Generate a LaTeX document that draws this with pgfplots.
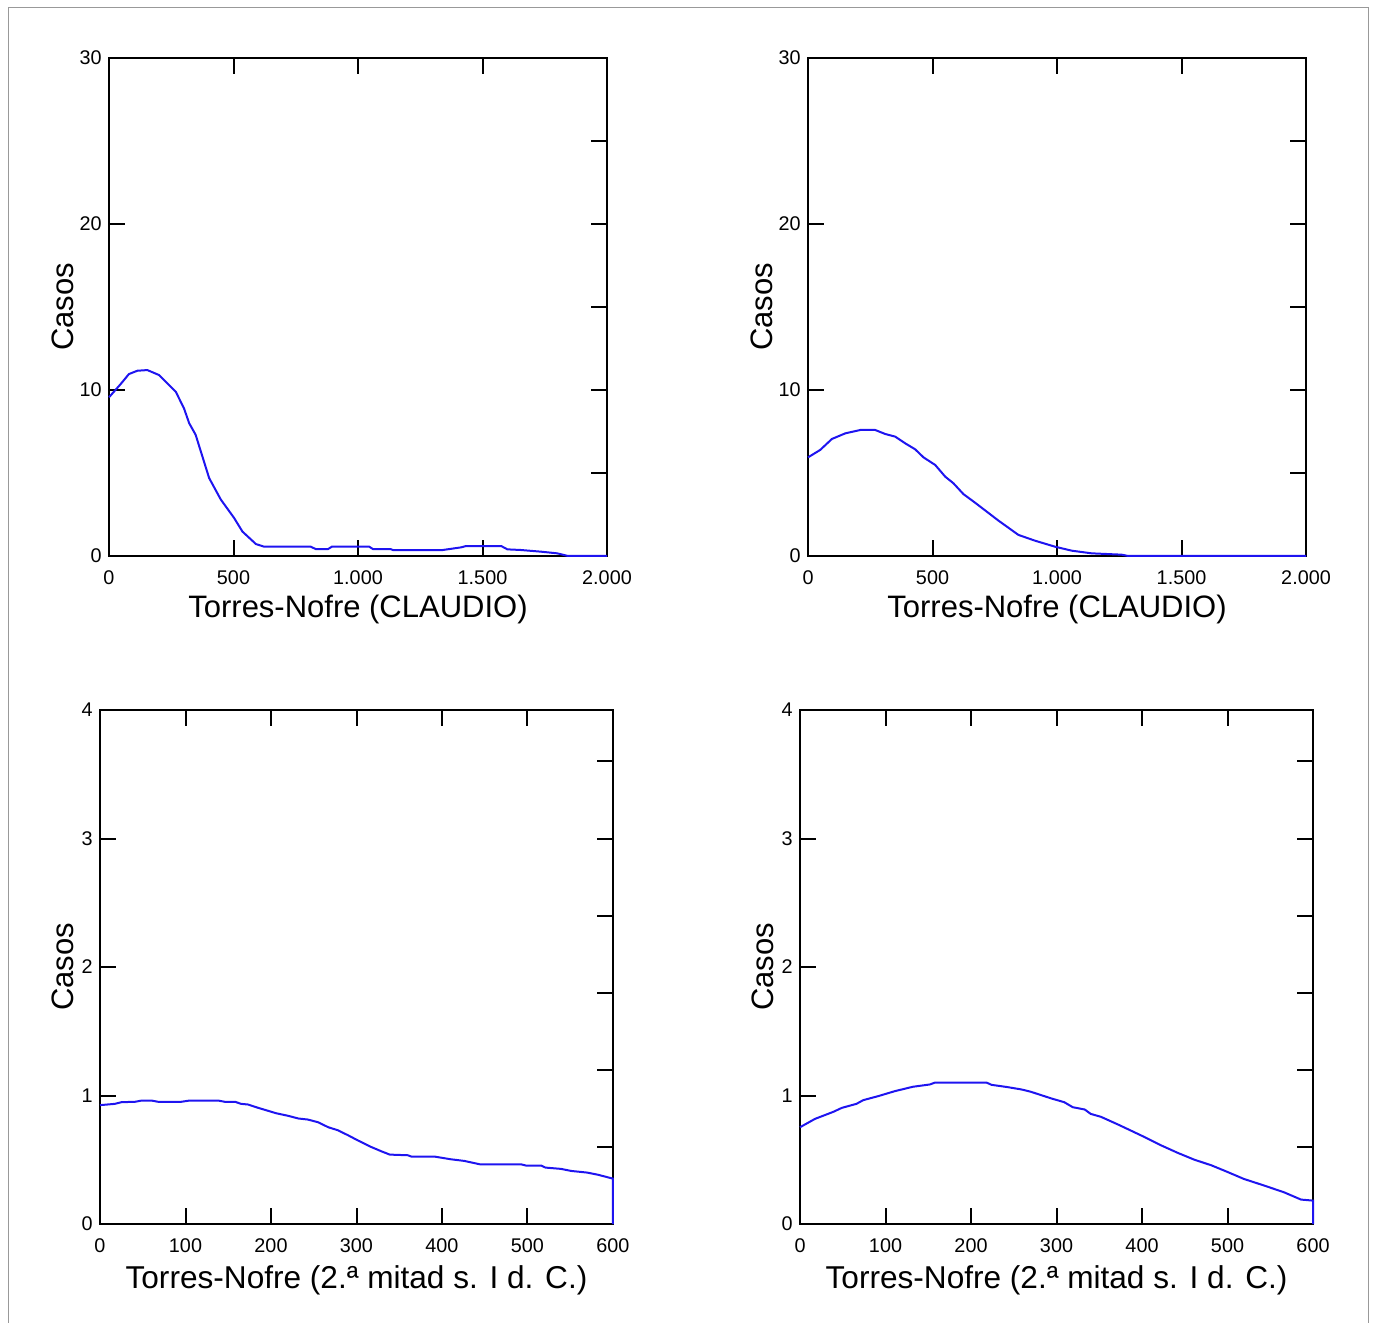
\documentclass[border=0pt]{standalone}
\usepackage{fontspec}
\setmainfont{Liberation Sans}
\usepackage{pgfplots}
\pgfplotsset{compat=1.18}
\definecolor{curve}{RGB}{30,20,240}
\pgfplotsset{
  panel/.style={
    scale only axis,
    axis line style={line width=1pt, black},
    every tick/.style={line width=1pt, black},
    major tick length=8pt,
    tick align=inside,
    clip=false,
  },
  mainpanel/.style={
    panel,
    xtick pos=both,
    ytick pos=left,
    xticklabel style={font=\fontsize{9.9}{10}\selectfont, inner sep=0pt, anchor=north, yshift=-7pt},
    yticklabel style={font=\fontsize{9.9}{10}\selectfont, inner sep=0pt, anchor=east, xshift=-3.5pt},
    ylabel style={font=\fontsize{15.5}{16}\selectfont, inner sep=0pt, at={([xshift=-17.5pt]axis description cs:0,0.5)}, anchor=south},
  },
  rightpanel/.style={
    panel,
    xtick=\empty,
    ytick pos=right,
    yticklabels={},
  },
}
\begin{document}
\begin{tikzpicture}
\useasboundingbox (0,0) rectangle (687pt,661pt);
\draw[gray!80, line width=0.5pt] (4pt,-1pt) -- (4pt,657pt) -- (684pt,657pt) -- (684pt,-1pt);

% ---------- Top left ----------
\begin{axis}[rightpanel, at={(54.5pt,383pt)}, anchor=south west, width=249pt, height=249pt,
  xmin=0, xmax=2000, ymin=0, ymax=30, ytick={0,5,10,15,20,25,30}]
\end{axis}
\begin{axis}[mainpanel, at={(54.5pt,383pt)}, anchor=south west, width=249pt, height=249pt,
  xmin=0, xmax=2000, ymin=0, ymax=30,
  xtick={0,500,1000,1500,2000}, xticklabels={0,500,1.000,1.500,2.000},
  ytick={0,10,20,30}, yticklabels={0,10,20,30},
  xlabel={Torres-Nofre (CLAUDIO)}, ylabel={Casos},
  xlabel style={font=\fontsize{15.5}{16}\selectfont, inner sep=0pt, at={(axis description cs:0.5,0)}, anchor=north, yshift=-19.5pt}]
\addplot[curve, line width=1pt] coordinates {
(0,9.56) (47,10.36) (80,10.96) (114,11.16) (154,11.2) (201,10.9) (234,10.4)
(268,9.9) (301,8.9) (322,8.0) (348,7.3) (375,6.0) (402,4.7) (449,3.4)
(502,2.3) (536,1.47) (590,0.72) (623,0.56) (810,0.56) (830,0.42) (880,0.42)
(895,0.56) (1045,0.56) (1060,0.42) (1130,0.42) (1140,0.36) (1340,0.36)
(1414,0.52) (1434,0.6) (1575,0.6) (1600,0.4) (1655,0.36) (1735,0.26)
(1800,0.16) (1843,0) (2000,0)};
\end{axis}

% ---------- Top right ----------
\begin{axis}[rightpanel, at={(404pt,383pt)}, anchor=south west, width=249pt, height=249pt,
  xmin=0, xmax=2000, ymin=0, ymax=30, ytick={0,5,10,15,20,25,30}]
\end{axis}
\begin{axis}[mainpanel, at={(404pt,383pt)}, anchor=south west, width=249pt, height=249pt,
  xmin=0, xmax=2000, ymin=0, ymax=30,
  xtick={0,500,1000,1500,2000}, xticklabels={0,500,1.000,1.500,2.000},
  ytick={0,10,20,30}, yticklabels={0,10,20,30},
  xlabel={Torres-Nofre (CLAUDIO)}, ylabel={Casos},
  xlabel style={font=\fontsize{15.5}{16}\selectfont, inner sep=0pt, at={(axis description cs:0.5,0)}, anchor=north, yshift=-19.5pt}]
\addplot[curve, line width=1pt] coordinates {
(0,5.94) (49,6.39) (96,7.05) (150,7.39) (210,7.59) (270,7.59) (310,7.35)
(350,7.19) (390,6.79) (430,6.43) (464,5.94) (511,5.48) (551,4.78) (584,4.38)
(624,3.73) (671,3.21) (718,2.67) (765,2.13) (845,1.27) (912,0.92) (992,0.56)
(1059,0.32) (1139,0.16) (1259,0.08) (1286,0) (2000,0)};
\end{axis}

% ---------- Bottom left ----------
\begin{axis}[rightpanel, at={(50pt,49pt)}, anchor=south west, width=256.5pt, height=257pt,
  xmin=0, xmax=600, ymin=0, ymax=4, ytick={0,0.6,1.2,1.8,2.4,3.0,3.6}]
\end{axis}
\begin{axis}[mainpanel, at={(50pt,49pt)}, anchor=south west, width=256.5pt, height=257pt,
  xmin=0, xmax=600, ymin=0, ymax=4,
  xtick={0,100,200,300,400,500,600}, xticklabels={0,100,200,300,400,500,600},
  ytick={0,1,2,3,4}, yticklabels={0,1,2,3,4},
  xlabel={Torres-Nofre (2.ª mitad s. I d. C.)}, ylabel={Casos},
  ylabel style={at={([xshift=-13pt]axis description cs:0,0.5)}},
  xlabel style={font=\fontsize{15.8}{17}\selectfont, inner sep=0pt, at={(axis description cs:0.5,0)}, anchor=north, yshift=-20.5pt}]
\addplot[curve, line width=1pt] coordinates {
(0,0.925) (17.5,0.935) (25,0.948) (41,0.951) (49,0.961) (60,0.961) (68,0.951)
(95,0.951) (105,0.961) (138,0.961) (146,0.951) (158,0.951) (165,0.935)
(173,0.930) (185,0.904) (206,0.862) (220,0.842) (232,0.821) (243,0.813)
(255,0.792) (267,0.753) (278,0.730) (290,0.691) (302,0.649) (317,0.600)
(329,0.566) (339,0.540) (360,0.535) (364,0.525) (391,0.525) (410,0.504)
(426,0.491) (444,0.465) (492,0.465) (498,0.455) (516,0.455) (521,0.439)
(539,0.429) (551,0.413) (570,0.400) (582,0.384) (600,0.353) (600,0)};
\end{axis}

% ---------- Bottom right ----------
\begin{axis}[rightpanel, at={(400pt,49pt)}, anchor=south west, width=256.5pt, height=257pt,
  xmin=0, xmax=600, ymin=0, ymax=4, ytick={0,0.6,1.2,1.8,2.4,3.0,3.6}]
\end{axis}
\begin{axis}[mainpanel, at={(400pt,49pt)}, anchor=south west, width=256.5pt, height=257pt,
  xmin=0, xmax=600, ymin=0, ymax=4,
  xtick={0,100,200,300,400,500,600}, xticklabels={0,100,200,300,400,500,600},
  ytick={0,1,2,3,4}, yticklabels={0,1,2,3,4},
  xlabel={Torres-Nofre (2.ª mitad s. I d. C.)}, ylabel={Casos},
  ylabel style={at={([xshift=-13pt]axis description cs:0,0.5)}},
  xlabel style={font=\fontsize{15.8}{17}\selectfont, inner sep=0pt, at={(axis description cs:0.5,0)}, anchor=north, yshift=-20.5pt}]
\addplot[curve, line width=1pt] coordinates {
(0,0.753) (17.5,0.818) (39,0.873) (49,0.904) (66,0.935) (74,0.964) (91.4,0.995)
(111,1.034) (132,1.068) (152,1.086) (158,1.101) (218,1.101) (224,1.083)
(243,1.065) (259,1.047) (270,1.029) (294,0.977) (309,0.948) (319,0.909)
(333,0.891) (340,0.857) (352,0.834) (372,0.774) (387,0.727) (405,0.670)
(422,0.613) (442,0.553) (461,0.501) (481,0.457) (500,0.405) (519,0.351)
(543,0.299) (566,0.247) (586,0.190) (600,0.182) (600,0)};
\end{axis}
\end{tikzpicture}
\end{document}
